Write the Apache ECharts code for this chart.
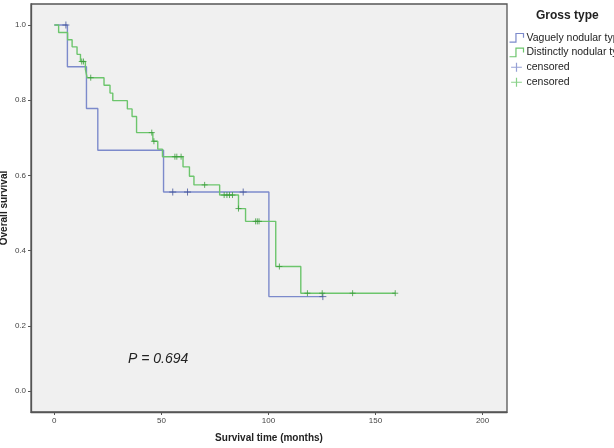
<!DOCTYPE html>
<html><head><meta charset="utf-8">
<script src="https://cdn.jsdelivr.net/npm/echarts@6/dist/echarts.min.js"></script>
<style>html,body{margin:0;padding:0;background:#fff}#c{width:614px;height:448px}</style>
</head><body><div id="c"></div>
<script>
// Vaguely nodular type (step curve)
const vagueTimes = [0, 6.1, 15.0, 20.3, 51.0, 100.2, 125.4];
const vagueSurv  = [1.0, 0.889, 0.778, 0.667, 0.556, 0.278, 0.278];
const vagueCensorTimes = [5.4, 55.3, 62.2, 88.2, 125.4];
const vagueCensorSurv  = [1.0, 0.556, 0.556, 0.556, 0.278];

// Distinctly nodular type (step curve)
const distinctTimes = [0, 2.0, 6.2, 8.3, 10.6, 12.2, 14.5, 15.3, 23.2, 26.0, 27.3, 34.1, 36.3, 38.4, 46.0, 48.3, 50.5, 60.1, 63.1, 65.2, 77.2, 86.0, 89.3, 103.4, 115.1, 159.2];
const distinctSurv  = [1.0, 0.980, 0.961, 0.942, 0.922, 0.903, 0.882, 0.860, 0.840, 0.819, 0.799, 0.777, 0.757, 0.714, 0.691, 0.670, 0.650, 0.623, 0.598, 0.575, 0.548, 0.512, 0.478, 0.358, 0.287, 0.287];
const distinctCensorTimes = [12.8, 13.6, 17.0, 45.5, 46.5, 56.3, 57.2, 59.2, 70.2, 79.3, 80.6, 81.8, 83.2, 86.0, 94.0, 94.8, 95.6, 105.1, 118.2, 125.1, 139.3, 159.2];
const distinctCensorSurv  = [0.903, 0.903, 0.860, 0.714, 0.691, 0.650, 0.650, 0.650, 0.575, 0.548, 0.548, 0.548, 0.548, 0.512, 0.478, 0.478, 0.478, 0.358, 0.287, 0.287, 0.287, 0.287];

// Tick labels
const xTicks = [0, 50, 100, 150, 200];
const yTickLabels = ['0.0', '0.2', '0.4', '0.6', '0.8', '1.0'];
const yTickPos = [0.027, 0.2, 0.4, 0.6, 0.8, 1.0];

const seriesNames = ['Vaguely nodular type', 'Distinctly nodular type', 'censored (vague)', 'censored (distinct)'];
const legendTitle = 'Gross type';
const pText = 'P = 0.694';

const FONT = '"Liberation Sans", Arial, sans-serif';
const BLUE = '#7C8ACB', GREEN = '#6CC56C', BLUE_C = '#45559A', GREEN_C = '#3C9E3C';
const STEP_ICON = 'path://M0,8 L6,8 L6,0 L13,0 L13,4';
const CROSS = 'path://M0,5 L12,5 M6,0 L6,10';

const zip = (a, b) => a.map((v, i) => [v, b[i]]);

const chart = echarts.init(document.getElementById('c'), null, {renderer: 'canvas'});
chart.setOption({
  animation: false,
  backgroundColor: '#ffffff',
  textStyle: {fontFamily: FONT},
  title: {
    text: legendTitle, left: 536, top: 10, padding: 0,
    textStyle: {fontSize: 12, fontWeight: 'bold', color: '#222', fontFamily: FONT}
  },
  legend: {
    orient: 'vertical', left: 507, top: 31, padding: 0,
    itemWidth: 14, itemHeight: 9, itemGap: 1,
    selectedMode: false,
    textStyle: {fontSize: 10.5, color: '#222', fontFamily: FONT, padding: [0,0,0,-2]},
    formatter: n => n.indexOf('censored') === 0 ? 'censored' : n,
    data: [
      {name: seriesNames[0], icon: STEP_ICON, itemStyle: {color: 'none', borderColor: BLUE, borderWidth: 1.2}},
      {name: seriesNames[1], icon: STEP_ICON, itemStyle: {color: 'none', borderColor: GREEN, borderWidth: 1.2}},
      {name: seriesNames[2], icon: CROSS, itemStyle: {color: 'none', borderColor: BLUE, borderWidth: 1.2}},
      {name: seriesNames[3], icon: CROSS, itemStyle: {color: 'none', borderColor: GREEN, borderWidth: 1.2}}
    ]
  },
  grid: {
    left: 31, right: 107, top: 4, bottom: 36, containLabel: false, outerBoundsMode: 'none',
    show: true, backgroundColor: '#F0F0F0', borderColor: '#555', borderWidth: 1.3
  },
  xAxis: {
    type: 'value', min: -10.9, max: 211.4,
    name: 'Survival time (months)', nameLocation: 'middle', nameGap: 21, nameMoveOverlap: false,
    nameTextStyle: {fontSize: 10, fontWeight: 'bold', color: '#222', fontFamily: FONT},
    axisLine: {show: true, onZero: false, lineStyle: {color: '#555', width: 1.3}},
    axisTick: {show: true, length: 3, customValues: xTicks, lineStyle: {color: '#555'}},
    axisLabel: {customValues: xTicks, fontSize: 8, color: '#444', margin: 5, fontFamily: FONT},
    splitLine: {show: false}
  },
  yAxis: {
    type: 'value', min: -0.0288, max: 1.0559,
    name: 'Overall survival', nameLocation: 'middle', nameGap: 22, nameMoveOverlap: false,
    nameTextStyle: {fontSize: 10, fontWeight: 'bold', color: '#222', fontFamily: FONT},
    axisLine: {show: true, onZero: false, lineStyle: {color: '#555', width: 1.3}},
    axisTick: {show: true, length: 3, customValues: yTickPos, lineStyle: {color: '#555'}},
    axisLabel: {
      customValues: yTickPos, fontSize: 8, color: '#444', margin: 5, fontFamily: FONT,
      formatter: v => yTickLabels[yTickPos.findIndex(p => Math.abs(p - v) < 1e-6)]
    },
    splitLine: {show: false}
  },
  graphic: [{
    type: 'text', left: 128, top: 352,
    style: {text: pText, font: 'italic 14px ' + FONT, fill: '#222'}
  }],
  series: [
    {name: seriesNames[0], type: 'line', step: 'end', data: zip(vagueTimes, vagueSurv),
      showSymbol: false, symbol: 'none', lineStyle: {color: BLUE, width: 1.4}, itemStyle: {color: BLUE}, z: 2},
    {name: seriesNames[1], type: 'line', step: 'end', data: zip(distinctTimes, distinctSurv),
      showSymbol: false, symbol: 'none', lineStyle: {color: GREEN, width: 1.4}, itemStyle: {color: GREEN}, z: 3},
    {name: seriesNames[2], type: 'scatter', data: zip(vagueCensorTimes, vagueCensorSurv),
      symbol: CROSS, symbolSize: 7, itemStyle: {color: 'none', borderColor: BLUE_C, borderWidth: 1}, z: 4},
    {name: seriesNames[3], type: 'scatter', data: zip(distinctCensorTimes, distinctCensorSurv),
      symbol: CROSS, symbolSize: 6, itemStyle: {color: 'none', borderColor: GREEN_C, borderWidth: 1}, z: 5}
  ]
});
</script></body></html>
